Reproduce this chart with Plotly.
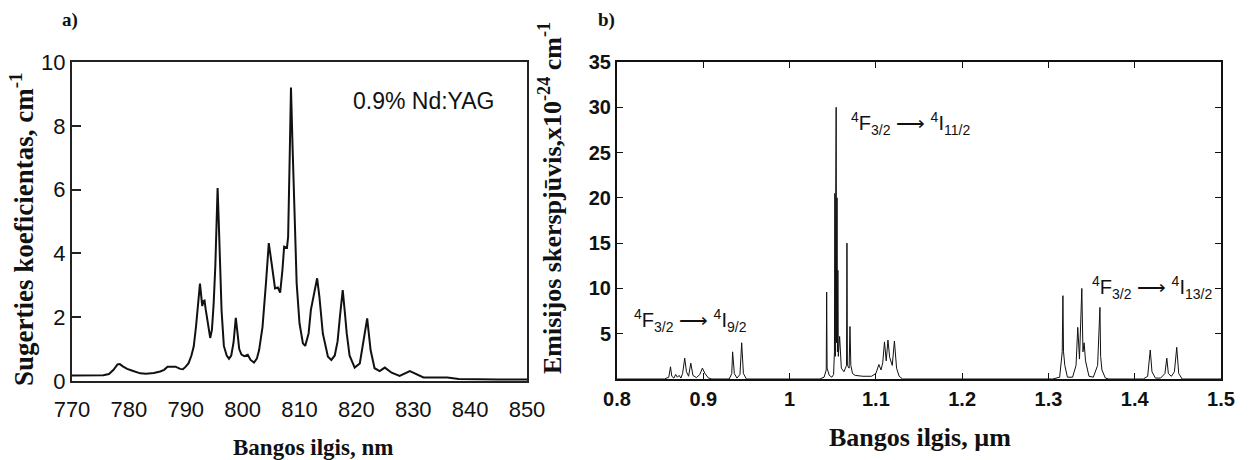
import plotly.graph_objects as go

W, H = 1249, 460

# ---------------- Panel a: absorption of 0.9% Nd:YAG ----------------
abs_nm = [770.0, 772.0, 774.0, 775.5, 776.5, 777.3, 778.0, 778.4, 779.0, 779.7,
          780.5, 781.3, 782.0, 783.0, 784.4, 785.5, 786.2, 786.8, 787.5, 788.2,
          789.0, 789.5, 790.0, 790.5, 791.0, 791.4, 791.8, 792.1, 792.4, 792.5,
          792.7, 792.9, 793.1, 793.3, 793.5, 793.7, 794.0, 794.3, 794.6, 794.9,
          795.2, 795.4, 795.6, 795.8, 796.0, 796.3, 796.7, 797.2, 797.6, 798.0,
          798.4, 798.8, 799.1, 799.4, 799.8, 800.3, 800.9, 801.4, 802.0, 802.5,
          802.9, 803.5, 804.1, 804.6, 805.1, 805.7, 806.2, 806.6, 807.0, 807.3,
          807.8, 808.0, 808.3, 808.5, 808.8, 809.1, 809.5, 810.0, 810.6, 811.0,
          811.6, 812.0, 812.6, 813.1, 813.5, 814.1, 815.0, 815.6, 816.2, 816.7,
          817.1, 817.6, 818.0, 818.3, 818.8, 819.7, 820.6, 821.3, 821.9, 822.5,
          823.2, 824.1, 825.0, 826.2, 827.6, 829.4, 830.6, 831.8, 836.0, 838.0,
          845.0, 850.0]
abs_coef = [0.17, 0.17, 0.17, 0.18, 0.22, 0.35, 0.52, 0.53, 0.45, 0.38,
            0.33, 0.27, 0.24, 0.23, 0.25, 0.30, 0.35, 0.45, 0.46, 0.45,
            0.38, 0.37, 0.45, 0.56, 0.80, 1.08, 1.70, 2.30, 2.90, 3.05,
            2.70, 2.35, 2.50, 2.52, 2.25, 2.00, 1.60, 1.35, 1.60, 2.40,
            3.60, 5.00, 6.05, 5.00, 3.60, 2.20, 1.10, 0.80, 0.70, 0.80,
            1.20, 1.98, 1.50, 1.00, 0.83, 0.78, 0.82, 0.66, 0.58, 0.70,
            0.97, 1.70, 3.06, 4.32, 3.69, 2.90, 2.93, 2.77, 3.48, 4.21,
            4.18, 4.52, 7.24, 9.20, 7.24, 5.15, 3.06, 1.81, 1.18, 1.10,
            1.49, 2.23, 2.75, 3.22, 2.64, 1.49, 0.76, 0.66, 0.80, 1.25,
            2.00, 2.85, 2.10, 1.50, 0.80, 0.42, 0.55, 1.29, 1.96, 0.97,
            0.40, 0.31, 0.42, 0.26, 0.16, 0.31, 0.22, 0.11, 0.11, 0.06,
            0.05, 0.05]
a_xticks = [770, 780, 790, 800, 810, 820, 830, 840, 850]
a_xticklabels = ["770", "780", "790", "800", "810", "820", "830", "840", "850"]
a_xmarks = [780, 800, 820, 840]
a_yticks = [0, 2, 4, 6, 8, 10]
a_yticklabels = ["0", "2", "4", "6", "8", "10"]

# ---------------- Panel b: emission cross-section ----------------
em_um = [0.800, 0.855, 0.860, 0.862, 0.8635, 0.866, 0.868, 0.870, 0.872, 0.874,
         0.876, 0.8785, 0.8805, 0.883, 0.8855, 0.888, 0.892, 0.896, 0.899, 0.902,
         0.906, 0.910, 0.930, 0.933, 0.934, 0.936, 0.939, 0.9425, 0.9445, 0.9465,
         0.950, 1.035, 1.040, 1.0425, 1.043, 1.0435, 1.046, 1.049, 1.051, 1.052,
         1.0525, 1.053, 1.0535, 1.054, 1.0545, 1.055, 1.0555, 1.056, 1.0565, 1.058,
         1.060, 1.063, 1.066, 1.0665, 1.067, 1.069, 1.070, 1.071, 1.073, 1.076,
         1.085, 1.095, 1.100, 1.1035, 1.106, 1.108, 1.110, 1.112, 1.114, 1.116,
         1.119, 1.1215, 1.124, 1.127, 1.131, 1.305, 1.313, 1.316, 1.3168, 1.3175,
         1.319, 1.322, 1.328, 1.332, 1.334, 1.336, 1.3387, 1.340, 1.3414, 1.343,
         1.347, 1.352, 1.357, 1.3597, 1.3605, 1.362, 1.366, 1.370, 1.410, 1.415,
         1.418, 1.420, 1.424, 1.430, 1.435, 1.4372, 1.439, 1.4425, 1.446, 1.4487,
         1.451, 1.455, 1.500]
em_cs = [0.0, 0.0, 0.2, 1.35, 0.3, 0.1, 0.5, 0.2, 0.4, 0.1,
         0.6, 2.3, 0.8, 0.3, 1.75, 0.4, 0.15, 0.5, 1.2, 0.6,
         0.1, 0.0, 0.0, 0.6, 3.0, 0.6, 0.1, 0.5, 4.0, 0.6,
         0.0, 0.0, 0.2, 1.0, 9.6, 1.2, 0.4, 0.2, 0.5, 3.0,
         20.5, 2.5, 20.5, 30.0, 4.0, 20.0, 3.0, 12.0, 2.5, 4.7,
         1.2, 0.8, 1.5, 15.0, 1.5, 1.2, 5.8, 1.5, 0.6, 0.4,
         0.3, 0.3, 0.6, 1.6, 1.0, 1.8, 4.1, 2.0, 4.3, 2.4,
         1.5, 4.2, 1.2, 0.3, 0.0, 0.0, 0.2, 3.0, 9.2, 3.0,
         1.5, 0.2, 0.2, 1.5, 5.7, 2.2, 10.0, 3.0, 4.0, 2.0,
         0.3, 0.2, 1.5, 7.9, 2.5, 1.0, 0.1, 0.0, 0.0, 0.3,
         3.2, 0.8, 0.1, 0.1, 0.6, 2.3, 0.6, 0.3, 0.8, 3.5,
         0.6, 0.0, 0.0]
b_xticks = [0.8, 0.9, 1.0, 1.1, 1.2, 1.3, 1.4, 1.5]
b_xticklabels = ["0.8", "0.9", "1", "1.1", "1.2", "1.3", "1.4", "1.5"]
b_yticks = [5, 10, 15, 20, 25, 30, 35]
b_yticklabels = ["5", "10", "15", "20", "25", "30", "35"]


def px_x(p):
    return p / W


def px_y(p):
    return 1 - p / H


SANS = "Liberation Sans, Arial, sans-serif"
SERIF = "Liberation Serif, Times New Roman, serif"

fig = go.Figure()
fig.add_trace(go.Scatter(x=abs_nm, y=abs_coef, mode="lines", xaxis="x", yaxis="y",
                         line=dict(color="#111111", width=2.0), showlegend=False))
fig.add_trace(go.Scatter(x=em_um, y=em_cs, mode="lines", xaxis="x2", yaxis="y2",
                         line=dict(color="#111111", width=1.0), showlegend=False))

a_dom_x = [px_x(72), px_x(527)]
a_dom_y = [px_y(381), px_y(62)]
b_dom_x = [px_x(617), px_x(1221)]
b_dom_y = [px_y(379), px_y(62)]

fig.update_layout(
    width=W, height=H,
    margin=dict(l=0, r=0, t=0, b=0),
    paper_bgcolor="white", plot_bgcolor="white",
    xaxis=dict(domain=a_dom_x, anchor="y", range=[770, 850],
               tickmode="array", tickvals=a_xticks, ticktext=a_xticklabels,
               ticks="", showgrid=False, zeroline=False,
               showline=True, linecolor="#222222", linewidth=2, mirror=True,
               tickfont=dict(family=SANS, size=22, color="#111111"),
               ticklabelstandoff=8, automargin=False),
    xaxis3=dict(overlaying="x", anchor="y", range=[770, 850], side="bottom",
                tickmode="array", tickvals=a_xmarks, ticks="inside", ticklen=9,
                tickwidth=1.5, tickcolor="#222222",
                showticklabels=False, showgrid=False, zeroline=False, showline=False),
    yaxis=dict(domain=a_dom_y, anchor="x", range=[0, 10],
               tickmode="array", tickvals=a_yticks, ticktext=a_yticklabels,
               ticks="inside", ticklen=9, tickwidth=1.5, tickcolor="#222222",
               showgrid=False, zeroline=False,
               showline=True, linecolor="#222222", linewidth=2, mirror=True,
               tickfont=dict(family=SANS, size=22, color="#111111"), automargin=False),
    xaxis2=dict(domain=b_dom_x, anchor="y2", range=[0.8, 1.5],
                tickmode="array", tickvals=b_xticks, ticktext=b_xticklabels,
                ticks="inside", ticklen=6, tickwidth=1.2, tickcolor="#111111",
                showgrid=False, zeroline=False,
                showline=True, linecolor="#111111", linewidth=2, mirror="ticks",
                tickfont=dict(family=SANS, size=20, color="#111111", weight="bold"),
                ticklabelstandoff=1, automargin=False),
    yaxis2=dict(domain=b_dom_y, anchor="x2", range=[0, 35],
                tickmode="array", tickvals=b_yticks, ticktext=b_yticklabels,
                ticks="inside", ticklen=6, tickwidth=1.2, tickcolor="#111111",
                showgrid=False, zeroline=False,
                showline=True, linecolor="#111111", linewidth=2, mirror="ticks",
                tickfont=dict(family=SANS, size=20, color="#111111", weight="bold"),
                automargin=False),
)

ann = []
# panel labels
ann.append(dict(text="<b>a)</b>", x=px_x(70), y=px_y(20), font=dict(family=SERIF, size=19)))
ann.append(dict(text="<b>b)</b>", x=px_x(606), y=px_y(20), font=dict(family=SERIF, size=19)))
# axis titles
ann.append(dict(text="<b>Bangos ilgis, nm</b>", x=px_x(313), y=px_y(447),
                font=dict(family=SERIF, size=23)))
ann.append(dict(text="<b>Bangos ilgis, µm</b>", x=px_x(920), y=px_y(437),
                font=dict(family=SERIF, size=26)))
ann.append(dict(text="<b>Sugerties koeficientas, cm<sup>-1</sup></b>", x=px_x(22), y=px_y(230),
                textangle=-90, font=dict(family=SERIF, size=27)))
ann.append(dict(text="<b>Emisijos skerspjūvis,x10<sup>-24</sup> cm<sup>-1</sup></b>", x=px_x(551), y=px_y(198),
                textangle=-90, font=dict(family=SERIF, size=26)))
# in-plot labels
ann.append(dict(text="0.9% Nd:YAG", x=px_x(423), y=px_y(101),
                font=dict(family=SANS, size=23)))
ann.append(dict(text="<sup>4</sup>F<sub>3/2</sub> ⟶ <sup>4</sup>I<sub>11/2</sub>", x=px_x(910), y=px_y(123),
                font=dict(family=SANS, size=20)))
ann.append(dict(text="<sup>4</sup>F<sub>3/2</sub> ⟶ <sup>4</sup>I<sub>13/2</sub>", x=px_x(1152), y=px_y(287),
                font=dict(family=SANS, size=20)))
ann.append(dict(text="<sup>4</sup>F<sub>3/2</sub> ⟶ <sup>4</sup>I<sub>9/2</sub>", x=px_x(690), y=px_y(320),
                font=dict(family=SANS, size=20)))

for a in ann:
    a.update(xref="paper", yref="paper", showarrow=False, xanchor="center", yanchor="middle")
    a["font"].setdefault("color", "#111111")
fig.update_layout(annotations=ann)

fig.write_html("out.html")
